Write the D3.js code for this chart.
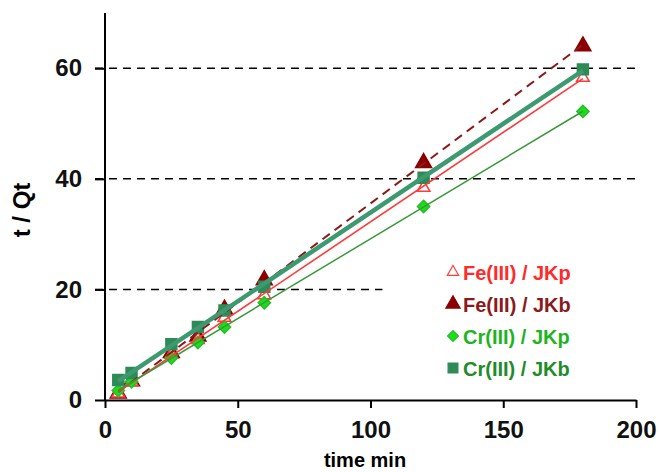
<!DOCTYPE html>
<html>
<head>
<meta charset="utf-8">
<script src="https://cdn.jsdelivr.net/npm/d3@7"></script>
<style>
  body { margin: 0; background: #fff; }
  svg { display: block; font-family: Arial, "Liberation Sans", sans-serif; }
</style>
</head>
<body>
<div id="chart"></div>
<script>
// sampling times (min)
const times = [5, 10, 25, 35, 45, 60, 120, 180]

// t / Qt values
const feJKp = [1.2, 3.3, 8.2, 10.9, 14.9, 19.0, 38.4, 58.3]
const feJKb = [1.2, 3.4, 8.5, 11.5, 16.4, 21.7, 42.9, 64.0]
const crJKp = [1.7, 3.3, 7.6, 10.4, 13.2, 17.6, 35.0, 52.2]
const crJKb = [3.6, 4.9, 10.1, 13.2, 16.2, 20.5, 40.2, 59.8]

const seriesNames = ['Fe(III) / JKp', 'Fe(III) / JKb', 'Cr(III) / JKp', 'Cr(III) / JKb']

const xTicks = [0, 50, 100, 150, 200]
const yTicks = [0, 20, 40, 60]
// dashed guide lines: value and how far (in minutes) they run
const guideLines = [[20, 104.5], [40, 200], [60, 200]]

const width = 659, height = 472
const margin = { top: 13, right: 23, bottom: 72, left: 105 }

const svg = d3.select('#chart').append('svg')
  .attr('width', width)
  .attr('height', height)

const x = d3.scaleLinear().domain([0, 200]).range([margin.left, width - margin.right])
const y = d3.scaleLinear().domain([0, 70]).range([height - margin.bottom, margin.top])

// guide lines
svg.append('g')
  .selectAll('line')
  .data(guideLines)
  .join('line')
  .attr('x1', x(0) - 10)
  .attr('x2', d => x(d[1]))
  .attr('y1', d => y(d[0]))
  .attr('y2', d => y(d[0]))
  .attr('stroke', '#000')
  .attr('stroke-width', 1.5)
  .attr('stroke-dasharray', '8,6')

// axes
const xAxis = svg.append('g')
  .attr('transform', `translate(0,${y(0)})`)
  .call(d3.axisBottom(x).tickValues(xTicks).tickSize(8).tickPadding(13).tickSizeOuter(0))
const yAxis = svg.append('g')
  .attr('transform', `translate(${x(0)},0)`)
  .call(d3.axisLeft(y).tickValues(yTicks).tickSize(10).tickPadding(13).tickSizeOuter(0))

xAxis.select('.domain').attr('stroke-width', 2)
yAxis.select('.domain').attr('stroke-width', 2)
  .attr('d', `M0,${y(70)}V${y(0)}`)
svg.selectAll('.tick line').attr('stroke-width', 2)
svg.selectAll('.tick text')
  .attr('font-size', 24)
  .attr('font-weight', 'bold')
  .attr('fill', '#111')
  .attr('font-family', 'Arial, "Liberation Sans", sans-serif')

// axis titles
svg.append('text')
  .attr('x', 365)
  .attr('y', 467)
  .attr('text-anchor', 'middle')
  .attr('font-size', 20)
  .attr('font-weight', 'bold')
  .text('time min')

svg.append('text')
  .attr('transform', 'translate(30,210) rotate(-90)')
  .attr('text-anchor', 'middle')
  .attr('font-size', 24)
  .attr('font-weight', 'bold')
  .text('t / Qt')

// series setup (diamond = square turned 45deg)
const series = [
  { name: seriesNames[0], values: feJKp, line: '#ff3b3b', lw: 1.6, dash: null, text: '#ff2a2a',
    symbol: d3.symbolTriangle, size: 70, rot: 0, fill: '#fff', stroke: '#ff3b3b' },
  { name: seriesNames[1], values: feJKb, line: '#8b1a1a', lw: 2, dash: '9,6', text: '#8b1a1a',
    symbol: d3.symbolTriangle, size: 110, rot: 0, fill: '#8b0000', stroke: '#8b0000' },
  { name: seriesNames[2], values: crJKp, line: '#3a9a3a', lw: 1.5, dash: null, text: '#1fb41f',
    symbol: d3.symbolSquare, size: 75, rot: 45, fill: '#18e018', stroke: '#2bbb2b' },
  { name: seriesNames[3], values: crJKb, line: '#3d9970', lw: 4.5, dash: null, text: '#1f8c2a',
    symbol: d3.symbolSquare, size: 120, rot: 0, fill: '#2e8b57', stroke: '#2e8b57' }
]

// straight-line fit through each series
function fit(vals) {
  const mx = d3.mean(times), my = d3.mean(vals)
  const b = d3.sum(times, (t, i) => (t - mx) * (vals[i] - my)) / d3.sum(times, t => (t - mx) ** 2)
  const a = my - b * mx
  return [times[0], times[times.length - 1]].map(t => [t, a + b * t])
}

const line = d3.line().x(d => x(d[0])).y(d => y(d[1]))

const drawOrder = [1, 0, 2, 3]

drawOrder.forEach(k => {
  const s = series[k]
  svg.append('g')
    .selectAll('path')
    .data(times.map((t, i) => [t, s.values[i]]))
    .join('path')
    .attr('transform', d => `translate(${x(d[0])},${y(d[1])}) rotate(${s.rot})`)
    .attr('d', d3.symbol().type(s.symbol).size(s.size))
    .attr('fill', s.fill)
    .attr('stroke', s.stroke)
    .attr('stroke-width', 1.5)
})

drawOrder.forEach(k => {
  const s = series[k]
  svg.append('path')
    .attr('d', line(fit(s.values)))
    .attr('fill', 'none')
    .attr('stroke', s.line)
    .attr('stroke-width', s.lw)
    .attr('stroke-dasharray', s.dash)
})

// legend
const legend = svg.append('g').attr('transform', 'translate(453,272)')
const rows = legend.selectAll('g')
  .data(series)
  .join('g')
  .attr('transform', (d, i) => `translate(0,${i * 32})`)

rows.append('path')
  .attr('transform', d => `rotate(${d.rot})`)
  .attr('d', d => d3.symbol().type(d.symbol).size(d.size * 0.8)())
  .attr('fill', d => d.fill)
  .attr('stroke', d => d.stroke)
  .attr('stroke-width', 1.2)

rows.append('text')
  .attr('x', 10)
  .attr('y', 8)
  .attr('font-size', 20)
  .attr('font-weight', 'bold')
  .attr('fill', d => d.text)
  .text(d => d.name)
</script>
</body>
</html>
